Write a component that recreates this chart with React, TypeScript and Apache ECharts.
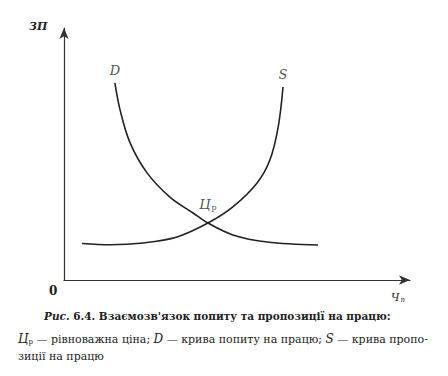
import React, { useEffect, useRef } from "react";
import * as echarts from "echarts";

// Demand curve D (labour demand) – x: quantity of workers, y: wage
const demandX = [14.7, 16.2, 19.1, 24.0, 30.6, 37.3, 41.6, 48.8, 58.7, 73.4];
const demandY = [78.2, 67.5, 54.4, 42.5, 32.9, 26.6, 22.6, 17.9, 15.1, 13.9];
// Supply curve S (labour supply)
const supplyX = [5.2, 13.3, 22.8, 32.7, 41.6, 48.8, 55.8, 59.5, 61.9, 63.3];
const supplyY = [14.5, 14.0, 14.7, 17.1, 22.6, 29.0, 38.5, 47.6, 60.7, 76.6];
// Equilibrium point
const equilibrium = [41.6, 22.6];

const captionLine1 = "{it|Рис.} 6.4. Взаємозв'язок попиту та пропозиції на працю:";
const captionLine2 = "{i|Ц}{sub|р} — рівноважна ціна; {i|D} — крива попиту на працю; {i|S} — крива пропо-";
const captionLine3 = "зиції на працю";

const SERIF = "'DejaVu Serif', 'Liberation Serif', serif";
const INK = "#222";

export default function App() {
  const ref = useRef<HTMLDivElement>(null);
  useEffect(() => {
    if (!ref.current) return;
    const chart = echarts.init(ref.current, undefined, { renderer: "svg" });
    const axisCommon = {
      type: "value" as const,
      min: 0,
      max: 100,
      axisLine: {
        show: true,
        symbol: ["none", "arrow"],
        symbolSize: [7, 11],
        lineStyle: { color: "#333", width: 1.2 },
      },
      axisTick: { show: false },
      axisLabel: { show: false },
      splitLine: { show: false },
    };
    chart.setOption({
      animation: false,
      backgroundColor: "#fff",
      grid: { left: 64, right: 38, top: 28, bottom: 96 },
      xAxis: { ...axisCommon },
      yAxis: { ...axisCommon },
      series: [
        {
          type: "line",
          name: "D",
          data: demandX.map((x, i) => [x, demandY[i]]),
          smooth: 0.35,
          showSymbol: false,
          symbol: "none",
          lineStyle: { color: INK, width: 1.6 },
        },
        {
          type: "line",
          name: "S",
          data: supplyX.map((x, i) => [x, supplyY[i]]),
          smooth: 0.35,
          showSymbol: false,
          symbol: "none",
          lineStyle: { color: INK, width: 1.6 },
        },
        {
          type: "scatter",
          symbolSize: 0,
          silent: true,
          data: [
            {
              value: [demandX[0], demandY[0]],
              label: { show: true, position: "top", distance: 6, formatter: "D" },
            },
            {
              value: [supplyX[supplyX.length - 1], supplyY[supplyY.length - 1]],
              label: { show: true, position: "top", distance: 6, formatter: "S" },
            },
            {
              value: equilibrium,
              label: {
                show: true,
                position: "top",
                distance: 12,
                formatter: "{i|Ц}{sub|р}",
              },
            },
          ],
          label: {
            color: INK,
            fontFamily: SERIF,
            fontStyle: "italic",
            fontSize: 13,
            rich: {
              i: { fontFamily: SERIF, fontStyle: "italic", fontSize: 13, color: INK },
              sub: { fontFamily: SERIF, fontStyle: "normal", fontSize: 8, color: INK, padding: [5, 0, 0, 1] },
            },
          },
        },
      ],
      graphic: [
        {
          type: "text",
          left: 29,
          top: 21,
          style: {
            text: "ЗП",
            font: `italic bold 11px ${SERIF}`,
            fill: INK,
          },
        },
        {
          type: "text",
          left: 49,
          top: 285,
          style: { text: "0", font: `bold 12px ${SERIF}`, fill: INK },
        },
        {
          type: "text",
          left: 391,
          top: 292,
          style: {
            text: "{i|Ч}{sub|п}",
            fill: INK,
            rich: {
              i: { fontFamily: SERIF, fontStyle: "italic", fontSize: 11, color: INK },
              sub: { fontFamily: SERIF, fontStyle: "italic", fontSize: 7, color: INK, padding: [5, 0, 0, 1] },
            },
          },
        },
        {
          type: "text",
          left: 44,
          top: 310,
          style: {
            text: captionLine1,
            font: `bold 10.5px ${SERIF}`,
            fill: INK,
            rich: {
              it: { fontFamily: SERIF, fontStyle: "italic", fontWeight: "bold", fontSize: 10.5, color: INK },
            },
          },
        },
        {
          type: "text",
          left: 18,
          top: 333,
          style: {
            text: captionLine2,
            font: `11px ${SERIF}`,
            fill: INK,
            rich: {
              i: { fontFamily: SERIF, fontStyle: "italic", fontSize: 12, color: INK },
              sub: { fontFamily: SERIF, fontSize: 7, color: INK, padding: [5, 0, 0, 0] },
            },
          },
        },
        {
          type: "text",
          left: 18,
          top: 351,
          style: { text: captionLine3, font: `11px ${SERIF}`, fill: INK },
        },
      ],
    });
    return () => chart.dispose();
  }, []);
  return (
    <div
      ref={ref}
      style={{ position: "fixed", left: 0, top: 0, width: 448, height: 376 }}
    />
  );
}
